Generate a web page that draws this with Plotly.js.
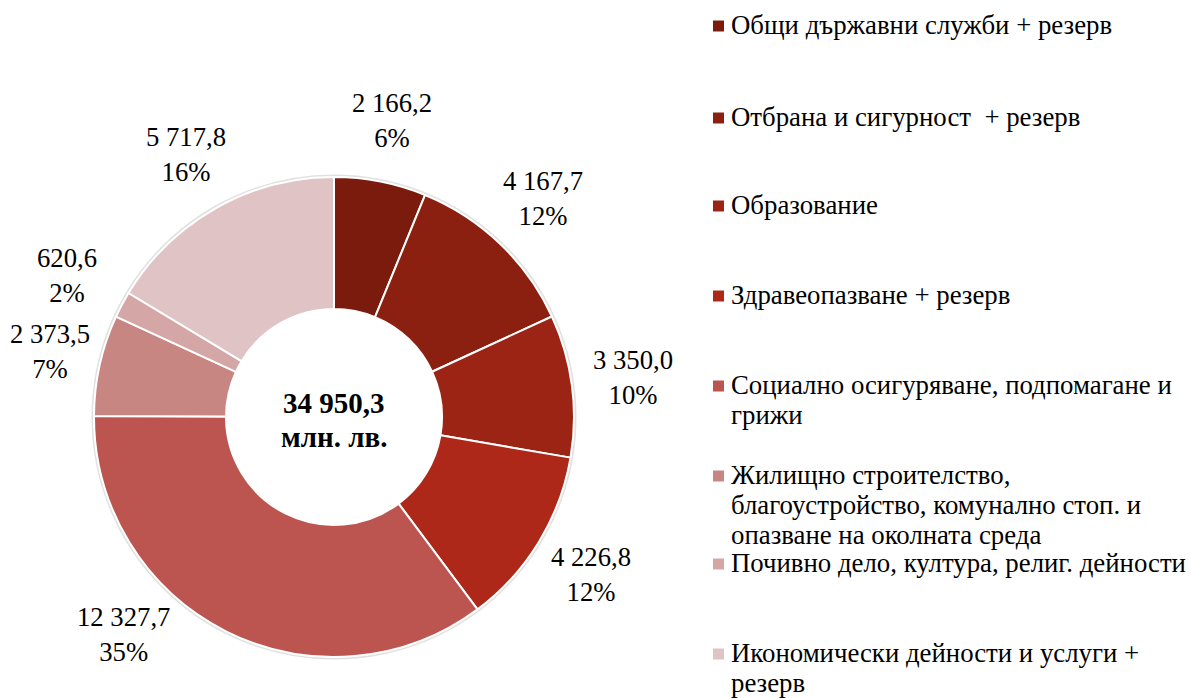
<!DOCTYPE html>
<html>
<head>
<meta charset="utf-8">
<script src="https://cdn.plot.ly/plotly-3.0.1.min.js"></script>
<style>html,body{margin:0;padding:0;background:#fff;}#chart{width:1190px;height:698px;}</style>
</head>
<body>
<div id="chart"></div>
<script>
// ---- data ----
const categories = [
  'Общи държавни служби + резерв',
  'Отбрана и сигурност  + резерв',
  'Образование',
  'Здравеопазване + резерв',
  'Социално осигуряване, подпомагане и<br>грижи',
  'Жилищно строителство,<br>благоустройство, комунално стоп. и<br>опазване на околната среда',
  'Почивно дело, култура, религ. дейности',
  'Икономически дейности и услуги +<br>резерв'
];
const values = [2166.2, 4167.7, 3350.0, 4226.8, 12327.7, 2373.5, 620.6, 5717.8];
const unitLabel = 'млн. лв.';

// ---- style ----
const colors = ['#7A1B0D', '#8B2011', '#9C2415', '#AD2818', '#BC5550', '#C78682', '#D5A6A6', '#E0C3C4'];
const W = 1190, H = 698;
const cx = 334, cy = 417, rad = 240;
const labelR = 302, labelYLimit = 217, labelXMin = 50;
const FONT = 'Times New Roman';
const legendX = 713, legendSq = 11, legendTextX = 729;
const legendFirstLineY = [25, 117, 205, 295, 385, 475, 563, 653];
const legendLineGap = 30;

function fmt(v) {
  const parts = v.toFixed(1).split('.');
  const intp = parts[0].replace(/\B(?=(\d{3})+(?!\d))/g, ' ');
  return intp + ',' + parts[1];
}

const total = values.reduce((a, b) => a + b, 0);

const trace = {
  type: 'pie',
  values: values,
  labels: categories.map(c => c.replace(/<br>/g, ' ')),
  marker: { colors: colors, line: { color: '#ffffff', width: 2 } },
  hole: 0.45,
  sort: false,
  direction: 'clockwise',
  rotation: 0,
  textinfo: 'none',
  hovertemplate: '%{label}<br>%{value:,.1f}<br>%{percent}<extra></extra>',
  domain: { x: [(cx - rad) / W, (cx + rad) / W], y: [(H - cy - rad) / H, (H - cy + rad) / H] }
};

const annotations = [];
const shapes = [];

// faint shadow ring around the pie
shapes.push({
  type: 'circle', xref: 'paper', yref: 'paper', layer: 'below',
  x0: (cx - rad - 1.5) / W, x1: (cx + rad + 1.5) / W,
  y0: (H - cy - rad - 1.5) / H, y1: (H - cy + rad + 1.5) / H,
  line: { color: 'rgba(0,0,0,0.12)', width: 2 }, fillcolor: 'rgba(0,0,0,0)'
});

// slice labels
let cum = 0;
values.forEach((v, i) => {
  const mid = (cum + v / 2) / total * 2 * Math.PI;
  cum += v;
  let px = cx + labelR * Math.sin(mid);
  let py = cy - labelR * Math.cos(mid);
  if (py > cy + labelYLimit) {
    py = cy + labelYLimit;
    px = cx + Math.sign(Math.sin(mid)) * Math.sqrt(labelR * labelR - labelYLimit * labelYLimit);
  }
  px = Math.max(px, labelXMin);
  const pct = Math.round(v / total * 100);
  annotations.push({
    xref: 'paper', yref: 'paper', x: px / W, y: (H - py) / H,
    xanchor: 'center', yanchor: 'middle', showarrow: false,
    text: fmt(v) + '<br>' + pct + '%',
    font: { family: FONT, size: 26.7, color: '#000' }
  });
});

// center text
annotations.push({
  xref: 'paper', yref: 'paper', x: cx / W, y: (H - 403) / H,
  xanchor: 'center', yanchor: 'middle', showarrow: false,
  text: '<b>' + fmt(total) + '</b>',
  font: { family: FONT, size: 29, color: '#000' }
});
annotations.push({
  xref: 'paper', yref: 'paper', x: cx / W, y: (H - 437) / H,
  xanchor: 'center', yanchor: 'middle', showarrow: false,
  text: '<b>' + unitLabel + '</b>',
  font: { family: FONT, size: 29, color: '#000' }
});

// legend
categories.forEach((c, i) => {
  const y0 = legendFirstLineY[i];
  shapes.push({
    type: 'rect', xref: 'paper', yref: 'paper',
    x0: legendX / W, x1: (legendX + legendSq) / W,
    y0: (H - (y0 - legendSq / 2 + 1)) / H, y1: (H - (y0 + legendSq / 2 + 1)) / H,
    fillcolor: colors[i], line: { width: 0 }
  });
  c.split('<br>').forEach((line, j) => {
    annotations.push({
      xref: 'paper', yref: 'paper', x: legendTextX / W, y: (H - (y0 + j * legendLineGap)) / H,
      xanchor: 'left', yanchor: 'middle', showarrow: false,
      text: line,
      font: { family: FONT, size: 26.8, color: '#000' }
    });
  });
});

const layout = {
  width: W, height: H,
  margin: { l: 0, r: 0, t: 0, b: 0 },
  paper_bgcolor: '#ffffff',
  showlegend: false,
  separators: ', ',
  font: { family: FONT },
  annotations: annotations,
  shapes: shapes
};

Plotly.newPlot('chart', [trace], layout, { displayModeBar: false, staticPlot: true });
</script>
</body>
</html>
